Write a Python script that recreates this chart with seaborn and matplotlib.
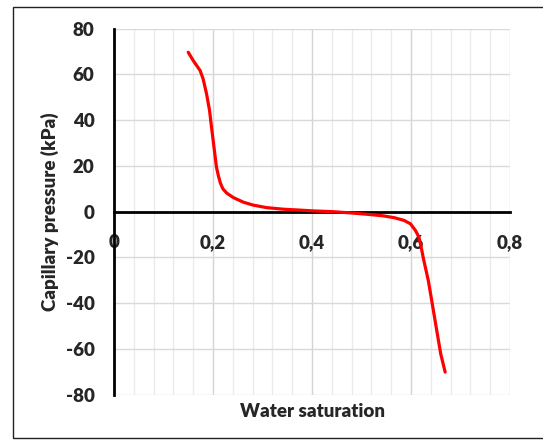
import matplotlib
matplotlib.use("Agg")
import matplotlib.pyplot as plt
import matplotlib.patches as mpatches
import seaborn as sns
import numpy as np

water_saturation = [0.150, 0.160, 0.174, 0.180, 0.187, 0.193, 0.197, 0.202, 0.207,
                    0.211, 0.215, 0.220, 0.228, 0.241, 0.261, 0.281, 0.308, 0.342,
                    0.376, 0.399, 0.443, 0.477, 0.511, 0.544, 0.566, 0.586, 0.599,
                    0.609, 0.616, 0.620, 0.625, 0.635, 0.643, 0.652, 0.660, 0.669]
capillary_pressure = [69.6, 66.0, 61.6, 58.0, 51.4, 44.2, 36.9, 28.1, 19.4,
                      15.5, 12.4, 9.9, 8.0, 6.1, 4.1, 2.8, 1.7, 1.0,
                      0.6, 0.3, -0.1, -0.6, -1.2, -1.9, -2.7, -3.9, -5.4,
                      -8.3, -11.2, -15.0, -20.5, -30.2, -40.4, -52.0, -62.2, -70.2]
x_ticks = [0, 0.2, 0.4, 0.6, 0.8]
x_tick_labels = ["0", "0,2", "0,4", "0,6", "0,8"]
y_ticks = [-80, -60, -40, -20, 0, 20, 40, 60, 80]

sns.set_style("white")
plt.rcParams['font.family'] = ['Lato', 'DejaVu Sans']
plt.rcParams['axes.unicode_minus'] = False

W, H = 543, 442
fig = plt.figure(figsize=(W / 100, H / 100), dpi=100)
ax = fig.add_axes([114 / W, 1 - 394.5 / H, 396 / W, 366 / H])

# gridlines
for xv in np.arange(0.04, 0.81, 0.04):
    major = abs(round(xv / 0.2) * 0.2 - xv) < 1e-6
    ax.axvline(xv, color='#d4d4d4' if major else '#ebebeb', lw=1.0, zorder=0)
for yv in y_ticks:
    ax.axhline(yv, color='#d9d9d9', lw=1.0, zorder=0)

sns.lineplot(x=water_saturation, y=capillary_pressure, color='#ff0000', lw=2.3,
             estimator=None, sort=False, ax=ax, zorder=3)

ax.set_xlim(0, 0.8)
ax.set_ylim(-80, 80)
ax.set_xticks(x_ticks)
ax.set_xticklabels(x_tick_labels)
ax.set_yticks(y_ticks)

ax.spines['top'].set_visible(False)
ax.spines['right'].set_visible(False)
ax.spines['bottom'].set_position(('data', 0))
for s in ['left', 'bottom']:
    ax.spines[s].set_color('black')
    ax.spines[s].set_linewidth(2)
    ax.spines[s].set_zorder(2)

ax.tick_params(axis='x', direction='out', length=5, width=2, color='black',
               labelsize=13.5, pad=11)
ax.tick_params(axis='y', direction='out', length=5, width=2, color='black',
               labelsize=13.5, pad=9)
for lab in ax.get_xticklabels() + ax.get_yticklabels():
    lab.set_fontweight('heavy')

ax.set_xlabel("Water saturation", fontsize=13.5, fontweight='heavy')
ax.set_ylabel("Capillary pressure (kPa)", fontsize=13.5, fontweight='heavy')
ax.xaxis.set_label_coords(0.5, -0.022)
ax.yaxis.set_label_coords(-0.139, 0.5)

# outer chart border
fig.patches.append(mpatches.Rectangle((12.5 / W, 4 / H), 1.2, 1 - 11 / H,
                                      transform=fig.transFigure, fill=False,
                                      edgecolor='#222222', lw=1.0))

fig.savefig("out.png", dpi=100)
